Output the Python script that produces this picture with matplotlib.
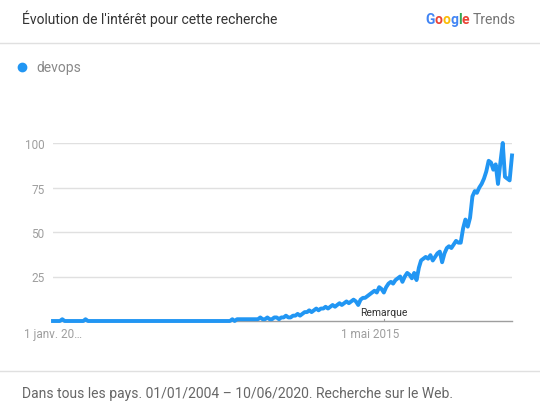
import matplotlib
matplotlib.use('Agg')
import matplotlib.pyplot as plt
import pandas as pd

# monthly interest, 2004-01 .. 2020-06
interest = (
    [0, 0, 0, 0, 1, 0, 0, 0, 0, 0, 0, 0, 0, 0, 1, 0] + [0] * 61
    + [1, 0, 1, 1, 1, 1, 1, 1, 1, 1, 1, 1, 2]
    + [1, 1, 2, 1, 1, 2, 2, 1, 2, 2, 3, 2, 2, 3, 3, 4]
    + [3, 4, 5, 5, 6, 5, 6, 7, 6, 7, 7, 8, 7, 8, 9, 8, 9, 10, 9, 10]
    + [11, 10, 11, 12, 11, 9, 12, 13, 13, 14, 15, 16, 17, 16, 19, 18, 16, 19, 21, 22]
    + [21, 23, 24, 25, 22, 25, 27, 26, 24, 27, 23, 30, 34, 35, 36, 35, 37, 34, 36, 38]
    + [39, 33, 38, 41, 42, 41, 43, 45, 44, 44, 52, 57, 53, 58, 70, 73, 72, 75, 77, 80]
    + [84, 90, 89, 85, 88, 77, 89, 100, 81, 80, 79, 93]
)
months = pd.date_range('2004-01-01', periods=len(interest), freq='MS')
y_ticks = [25, 50, 75, 100]
x_tick_dates = [pd.Timestamp('2004-01-01'), pd.Timestamp('2015-05-01')]
x_tick_labels = ['1 janv. 20…', '1 mai 2015']
note_date = pd.Timestamp('2015-11-01')

plt.rcParams['font.family'] = ['Roboto', 'DejaVu Sans']

blue = '#2196f3'
fig = plt.figure(figsize=(5.4, 4.06), dpi=100)
W, H = 540, 406

def fx(px):
    return px / W

def fy(py):
    return 1 - py / H

ax = fig.add_axes([fx(53), fy(322), fx(512) - fx(53), fy(144) - fy(322)])
ax.plot(months, interest, color=blue, linewidth=2.8, clip_on=False,
        solid_joinstyle='round', zorder=3)
ax.set_ylim(0, 100)
ax.set_xlim(months[0], months[-1])
ax.set_yticks(y_ticks)
ax.yaxis.grid(True, color='#e0e0e0', linewidth=1)
ax.set_xticks(x_tick_dates)
ax.set_xticklabels(x_tick_labels)
ax.tick_params(axis='both', length=0, labelsize=8.5, labelcolor='#9e9e9e')
ax.tick_params(axis='x', pad=4)
ax.tick_params(axis='y', pad=6)
for side in ['top', 'right', 'left']:
    ax.spines[side].set_visible(False)
ax.spines['bottom'].set_color('#9e9e9e')
ax.spines['bottom'].set_linewidth(1)
ax.set_axisbelow(True)

# note marker
ax.annotate('Remarque', xy=(note_date, 0), xytext=(0, 3), textcoords='offset points',
            ha='center', va='bottom', fontsize=7.5, color='#333333')
ax.plot([note_date, note_date], [0, 1.2], color='#9e9e9e', linewidth=0.8, zorder=2)

# header and footer
fig.text(fx(22), fy(19), "Évolution de l'intérêt pour cette recherche",
         fontsize=10, color='#333333', va='center')
fig.add_artist(plt.Line2D([0, 1], [fy(44), fy(44)], color='#e0e0e0', linewidth=1))
fig.add_artist(plt.Line2D([0, 1], [fy(372), fy(372)], color='#e0e0e0', linewidth=1))
fig.text(fx(22), fy(394), 'Dans tous les pays. 01/01/2004 – 10/06/2020. Recherche sur le Web.',
         fontsize=10, color='#666666', va='center')

# legend
fig.add_artist(plt.Line2D([fx(22)], [fy(68)], marker='o', markersize=6,
                          color=blue, linestyle='none'))
fig.text(fx(36), fy(68), 'devops', fontsize=10, color='#888888', va='center')

# Google Trends logo
renderer = fig.canvas.get_renderer()
x0 = fx(425)
for ch, col in zip('Google', ['#4285f4', '#ea4335', '#fbbc05', '#4285f4', '#34a853', '#ea4335']):
    t = fig.text(x0, fy(20), ch, fontsize=10, color=col, va='center', fontweight='bold')
    bb = t.get_window_extent(renderer)
    x0 += bb.width / W
fig.text(x0 + fx(3), fy(20), 'Trends', fontsize=10, color='#757575', va='center')

fig.savefig('out.png', dpi=100)
